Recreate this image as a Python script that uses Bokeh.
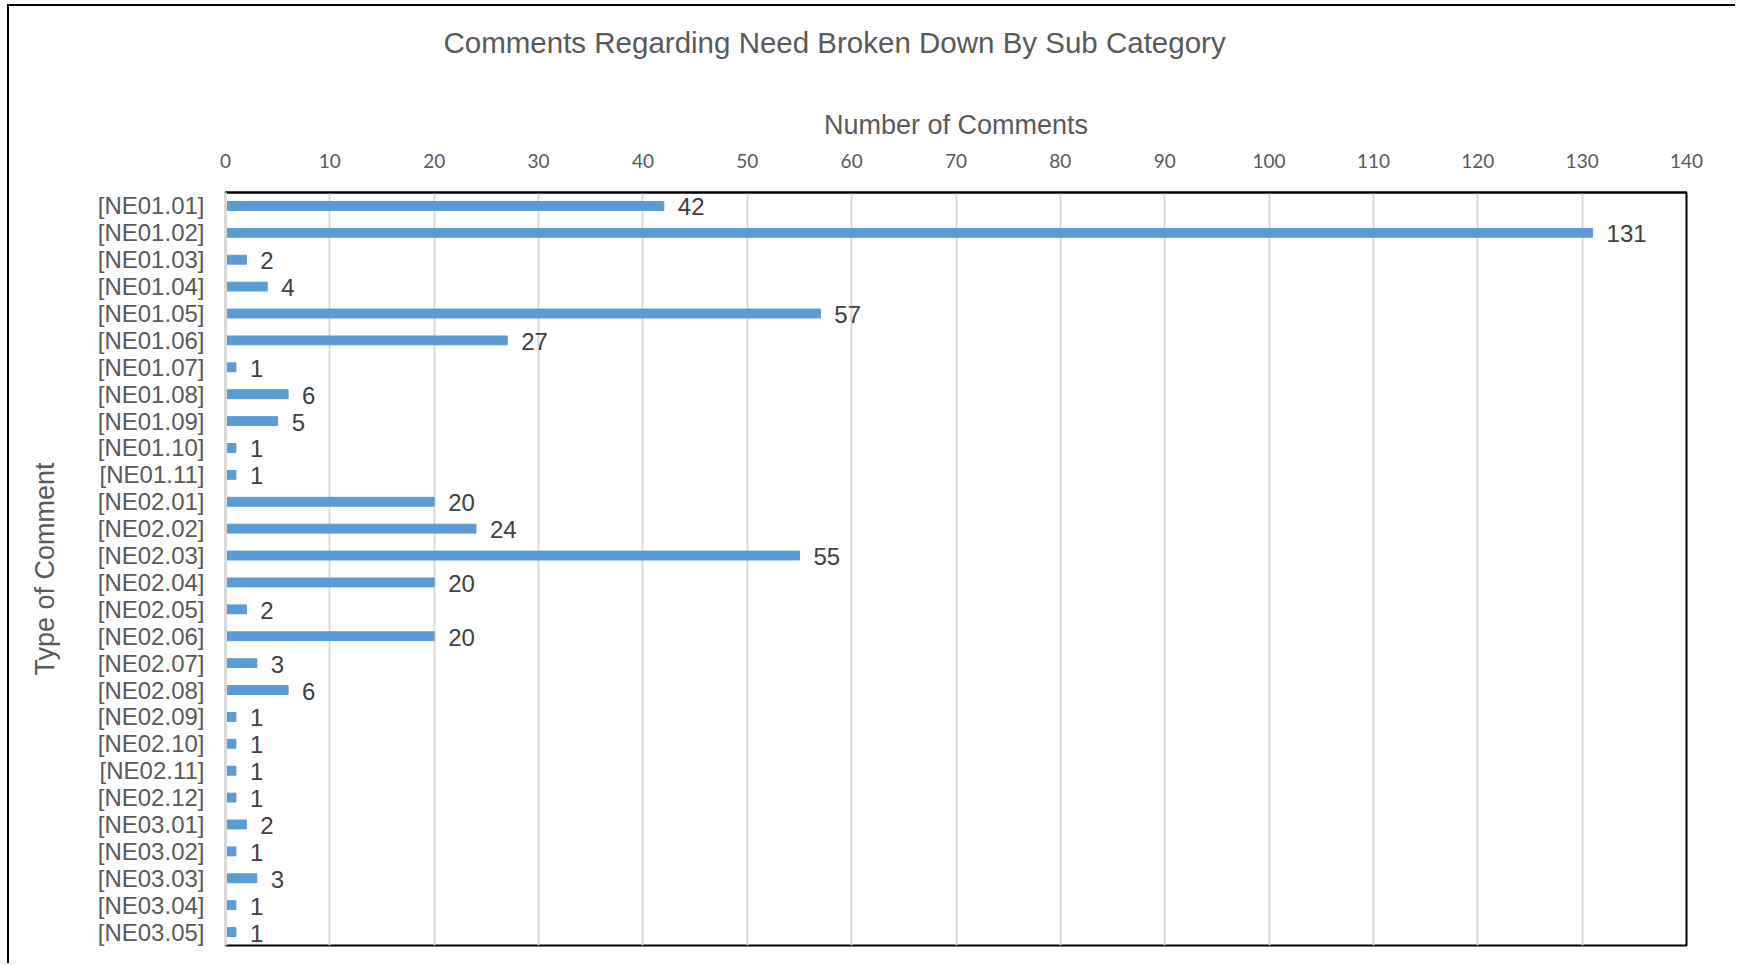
from bokeh.plotting import figure
from bokeh.models import ColumnDataSource, FactorRange, Range1d, LabelSet, FixedTicker, Title
from bokeh.core.properties import value
from bokeh.embed import file_html
from bokeh.resources import INLINE

categories = ["[NE01.01]", "[NE01.02]", "[NE01.03]", "[NE01.04]", "[NE01.05]", "[NE01.06]",
              "[NE01.07]", "[NE01.08]", "[NE01.09]", "[NE01.10]", "[NE01.11]",
              "[NE02.01]", "[NE02.02]", "[NE02.03]", "[NE02.04]", "[NE02.05]", "[NE02.06]",
              "[NE02.07]", "[NE02.08]", "[NE02.09]", "[NE02.10]", "[NE02.11]", "[NE02.12]",
              "[NE03.01]", "[NE03.02]", "[NE03.03]", "[NE03.04]", "[NE03.05]"]
counts = [42, 131, 2, 4, 57, 27, 1, 6, 5, 1, 1,
          20, 24, 55, 20, 2, 20, 3, 6, 1, 1, 1, 1,
          2, 1, 3, 1, 1]
x_ticks = [0, 10, 20, 30, 40, 50, 60, 70, 80, 90, 100, 110, 120, 130, 140]

title_text = "Comments Regarding Need Broken Down By Sub Category"
x_title = "Number of Comments"
y_title = "Type of Comment"

src = ColumnDataSource(dict(cat=categories, val=counts, lab=[str(v) for v in counts]))

GREY = "#595959"

p = figure(width=1728, height=959,
           y_range=FactorRange(factors=list(reversed(categories)), range_padding=0),
           x_range=Range1d(0, 140),
           x_axis_location="above",
           output_backend="svg", toolbar_location=None,
           min_border_left=216, min_border_right=51, min_border_top=186, min_border_bottom=20,
           title=title_text)
p.margin = (4, 0, 0, 7)
p.styles = {"border-left": "2px solid black", "border-top": "2px solid black"}

p.hbar(y="cat", right="val", left=0, height=0.33, color="#5B9BD5", source=src)

labels = LabelSet(x="val", y="cat", text="lab", source=src, x_offset=14, y_offset=-1,
                  text_baseline="middle", text_align="left",
                  text_font=value("Liberation Sans"), text_font_size=value("24px"),
                  text_color=value("#404040"))
p.add_layout(labels)

# spacer between the top axis and the title
spacer = Title(text=" ", text_font_size="1px", standoff=43, text_color="white")
p.add_layout(spacer, "above")

# title
p.title.text_font = "Liberation Sans"
p.title.text_font_size = "29.5px"
p.title.text_font_style = "normal"
p.title.text_color = GREY
p.title.align = "left"
p.title.vertical_align = "top"
p.title.offset = 218
p.title.standoff = 0

# x axis (top)
xa = p.xaxis[0]
xa.ticker = FixedTicker(ticks=x_ticks)
xa.axis_label = x_title
xa.axis_label_text_font = "Liberation Sans"
xa.axis_label_text_font_size = "27px"
xa.axis_label_text_font_style = "normal"
xa.axis_label_text_color = GREY
xa.axis_label_standoff = 11
xa.major_label_text_font = "Lato"
xa.major_label_text_font_size = "19px"
xa.major_label_text_color = GREY
xa.major_label_standoff = 19
xa.major_tick_line_color = None
xa.minor_tick_line_color = None
xa.axis_line_color = "black"
xa.axis_line_width = 2

# y axis
ya = p.yaxis[0]
ya.axis_label = y_title
ya.axis_label_text_font = "Liberation Sans"
ya.axis_label_text_font_size = "27px"
ya.axis_label_text_font_style = "normal"
ya.axis_label_text_color = GREY
ya.axis_label_standoff = 35
ya.major_label_text_font = "Liberation Sans"
ya.major_label_text_font_size = "24px"
ya.major_label_text_color = GREY
ya.major_label_standoff = 15
ya.major_tick_line_color = None
ya.axis_line_color = "#D9D9D9"
ya.axis_line_width = 3

p.xgrid.grid_line_color = "#D9D9D9"
p.xgrid.grid_line_width = 2
p.ygrid.grid_line_color = None

p.outline_line_color = "black"
p.outline_line_width = 2
p.background_fill_color = "white"
p.border_fill_color = "white"

open("out.html", "w").write(file_html(p, INLINE))
